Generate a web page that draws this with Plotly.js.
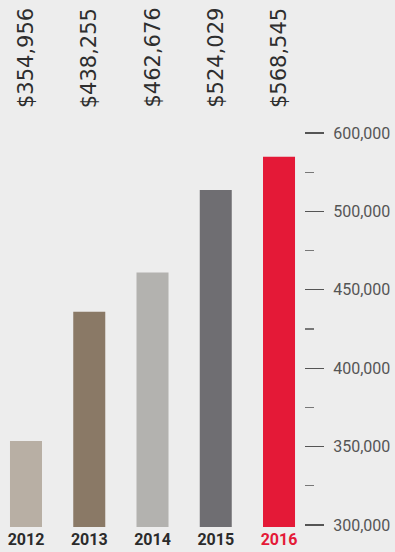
<!DOCTYPE html>
<html>
<head>
<meta charset="utf-8">
<script src="https://cdn.plot.ly/plotly-3.0.1.min.js"></script>
<style>
html,body{margin:0;padding:0;background:#ededed;}
#chart{width:395px;height:552px;}
</style>
</head>
<body>
<div id="chart"></div>
<script>
// Data
var years = ['2012', '2013', '2014', '2015', '2016'];
var barValues = [353600, 436000, 461000, 513700, 534800];   // bar heights as drawn against the axis
var valueLabels = ['$354,956', '$438,255', '$462,676', '$524,029', '$568,545'];
var barColors = ['#b8afa4', '#8a7966', '#b3b2af', '#6f6e72', '#e41937'];
var yTickVals = [300000, 350000, 400000, 450000, 500000, 550000];
var yTickText = ['300,000', '350,000', '400,000', '450,000', '500,000', '600,000'];

var xIdx = years.map(function(_, i){ return i; });
var yearText = years.map(function(y, i){
  var c = i === years.length - 1 ? '#e41937' : '#2b2b2b';
  return '<b><span style="color:' + c + '">' + y + '</span></b>';
});

var trace = {
  type: 'bar',
  x: xIdx,
  y: barValues,
  marker: {color: barColors, line: {width: 0}},
  hoverinfo: 'none'
};

var annotations = valueLabels.map(function(t, i){
  return {
    x: i, xref: 'x', y: 1, yref: 'paper',
    text: t, textangle: -90, showarrow: false,
    xanchor: 'center', yanchor: 'bottom', yshift: 15,
    font: {family: 'DejaVu Sans, sans-serif', size: 21, color: '#2e2e2e'}
  };
});

var layout = {
  width: 395, height: 552,
  paper_bgcolor: '#ededed', plot_bgcolor: '#ededed',
  margin: {l: 0, r: 91, t: 125, b: 25},
  showlegend: false,
  bargap: 0.494,
  xaxis: {
    range: [-0.411, 4.395],
    tickmode: 'array', tickvals: xIdx, ticktext: yearText,
    showgrid: false, zeroline: false, showline: false, ticks: '',
    tickfont: {family: 'Roboto', size: 16, color: '#2b2b2b'},
    ticklabelstandoff: 1,
    fixedrange: true
  },
  yaxis: {
    side: 'right',
    range: [298724, 555102],
    tickmode: 'array', tickvals: yTickVals, ticktext: yTickText,
    ticks: 'outside', ticklen: 19, tickwidth: 1.2, tickcolor: '#555555',
    ticklabelstandoff: 6,
    minor: {ticks: 'outside', ticklen: 9, tickwidth: 1.2, tickcolor: '#777777', dtick: 25000, tick0: 300000, showgrid: false},
    showgrid: false, zeroline: false, showline: false,
    tickfont: {family: 'Roboto', size: 16, color: '#555555'},
    fixedrange: true
  },
  annotations: annotations
};

Plotly.newPlot('chart', [trace], layout, {displayModeBar: false, staticPlot: true});
</script>
</body>
</html>
